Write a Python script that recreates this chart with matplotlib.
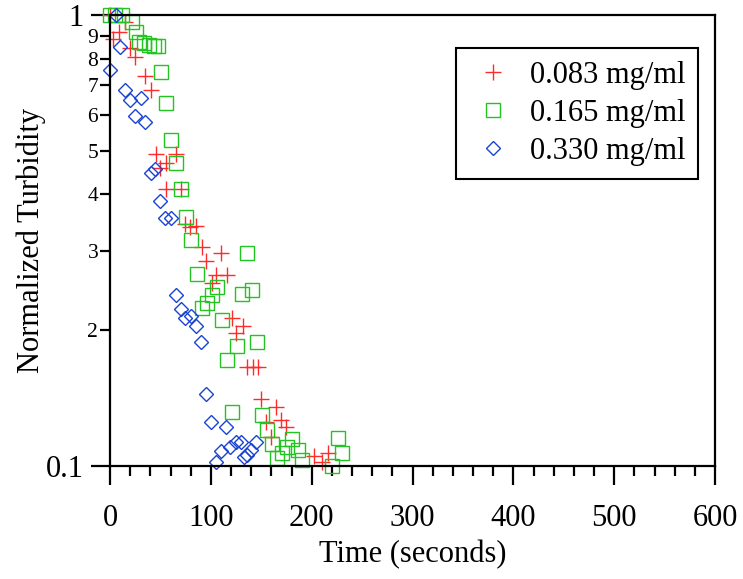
import matplotlib

matplotlib.use('Agg')

from matplotlib import pyplot as plt
from matplotlib.ticker import FixedLocator, FixedFormatter

# 0.083 mg/ml
t_083 = [0, 9, 3, 15, 20, 25, 35, 41, 46, 50, 56, 65, 55.5, 70.4, 74, 79, 85,
         91, 110, 95, 105, 116, 101, 121, 132, 125, 135.5, 142, 147, 150, 165,
         170, 175, 155, 160, 202, 210, 216]
y_083 = [1.0, 0.918, 0.885, 0.967, 0.844, 0.806, 0.732, 0.682, 0.491, 0.458,
         0.469, 0.491, 0.412, 0.412, 0.344, 0.338, 0.340, 0.306, 0.297, 0.285,
         0.265, 0.265, 0.254, 0.213, 0.204, 0.1975, 0.166, 0.166, 0.166, 0.141,
         0.135, 0.1265, 0.122, 0.125, 0.116, 0.105, 0.102, 0.107]

# 0.165 mg/ml
t_165 = [0, 5, 12, 21.5, 25.5, 28.8, 33.7, 38.7, 43.6, 47.6, 50.6, 55.2, 60.5,
         65.5, 70.4, 75, 80.3, 86, 105.8, 100.8, 95.9, 90.9, 110.7, 115.7,
         120.7, 135.5, 140.5, 130.6, 125.6, 145.5, 150.4, 155.4, 160.4, 165.3,
         170.9, 175.2, 180.2, 186, 190.7, 225.8, 230.4, 220.5]
y_165 = [1.0, 1.0, 1.0, 0.967, 0.918, 0.873, 0.865, 0.858, 0.855, 0.853, 0.749,
         0.639, 0.528, 0.469, 0.412, 0.357, 0.317, 0.267, 0.249, 0.239, 0.230,
         0.224, 0.211, 0.172, 0.132, 0.297, 0.246, 0.241, 0.185, 0.188, 0.130,
         0.120, 0.112, 0.104, 0.107, 0.110, 0.115, 0.1085, 0.103, 0.1156,
         0.107, 0.100]

# 0.330 mg/ml
t_330 = [5.6, 9.9, 0, 14.9, 19.8, 30.7, 24.8, 34.7, 40.4, 44.6, 49.9, 54.5,
         60.5, 65.1, 70.4, 74.4, 80, 85.3, 90.2, 94.9, 99.8, 115, 110, 105, 119,
         125, 129.6, 139.5, 135.5, 132.9, 144.8]
y_330 = [1.0, 0.851, 0.755, 0.682, 0.648, 0.656, 0.597, 0.578, 0.446, 0.455,
         0.387, 0.354, 0.354, 0.240, 0.223, 0.2126, 0.215, 0.2047, 0.188,
         0.1444, 0.1254, 0.1222, 0.1081, 0.1022, 0.1104, 0.1132, 0.1132,
         0.1085, 0.1058, 0.1045, 0.1132]

labels = ['0.083 mg/ml', '0.165 mg/ml', '0.330 mg/ml']
minor_y = [0.2, 0.3, 0.4, 0.5, 0.6, 0.7, 0.8, 0.9]
minor_y_labels = ['2', '3', '4', '5', '6', '7', '8', '9']

plt.rcParams['font.family'] = ['Liberation Serif', 'DejaVu Serif']


def main():
  fig = plt.figure(figsize=(7.43, 5.79), dpi=100)
  ax = fig.add_axes([110 / 743, 1 - 466 / 579, 605 / 743, 451 / 579])

  ax.plot(t_083, y_083, '+', color='#ff2a2a', ms=11, mew=1.0,
          clip_on=False, label=labels[0])
  ax.plot(t_165, y_165, 's', color='#22c422', mfc='none', ms=10.5, mew=1.0,
          clip_on=False, label=labels[1])
  ax.plot(t_330, y_330, 'D', color='#1a44d0', mfc='none', ms=7, mew=1.0,
          clip_on=False, label=labels[2])

  ax.set_yscale('log')
  ax.set_xlim(0, 600)
  ax.set_ylim(0.1, 1)

  ax.set_xticks(range(0, 601, 100))
  ax.set_xticks(range(0, 601, 20), minor=True)
  ax.yaxis.set_major_locator(FixedLocator([0.1, 1]))
  ax.yaxis.set_major_formatter(FixedFormatter(['0.1', '1']))
  ax.yaxis.set_minor_locator(FixedLocator(minor_y))
  ax.yaxis.set_minor_formatter(FixedFormatter(minor_y_labels))

  ax.tick_params(which='major', direction='out', length=14, width=1.6,
                 labelsize=22)
  ax.tick_params(which='minor', direction='out', length=7, width=1.6)
  ax.tick_params(axis='x', which='major', pad=13)
  ax.tick_params(axis='y', which='major', pad=5)
  ax.tick_params(axis='y', which='minor', pad=1.5, labelsize=15.5)

  for s in ax.spines.values():
    s.set_linewidth(1.6)

  ax.set_xlabel('Time (seconds)', fontsize=22, labelpad=5)
  ax.set_ylabel('Normalized Turbidity', fontsize=22, labelpad=0)

  leg = ax.legend(loc='upper right', bbox_to_anchor=(0.972, 0.927),
                  fontsize=22, frameon=True, fancybox=False, framealpha=1,
                  edgecolor='black', handlelength=1.6, handletextpad=0.4,
                  labelspacing=0.3, borderpad=0.42, borderaxespad=0)
  leg.get_frame().set_linewidth(1.5)

  fig.savefig('out.png', dpi=100)


if __name__ == '__main__':
  main()
